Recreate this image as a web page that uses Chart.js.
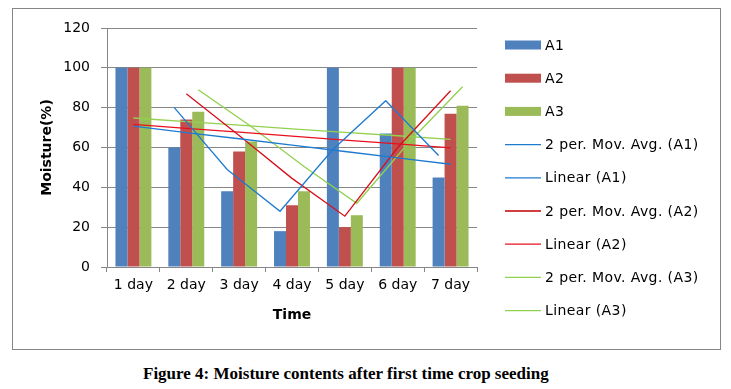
<!DOCTYPE html>
<html lang="en">
<head>
    <meta charset="UTF-8">
    <title>Moisture contents</title>
    <script src="https://cdn.jsdelivr.net/npm/chart.js"></script>
    <style>
        body { margin: 0; background: #fff; width: 731px; height: 389px; position: relative; overflow: hidden; }
        #frame { position: absolute; left: 12px; top: 8px; width: 709px; height: 342px; border: 1px solid #868686; box-sizing: border-box; }
        #wrap { position: absolute; left: 0; top: 0; width: 731px; height: 360px; }
        #caption { position: absolute; left: 143px; top: 364px; font: bold 17px "Liberation Serif", "Times New Roman", serif; color: #000; white-space: nowrap; }
    </style>
</head>
<body>
    <div id="frame"></div>
    <div id="wrap"><canvas id="moistureChart"></canvas></div>
    <div id="caption">Figure 4: Moisture contents after first time crop seeding</div>

    <script>
        // values
        const days = ['1 day', '2 day', '3 day', '4 day', '5 day', '6 day', '7 day'];
        const a1 = [100, 60, 38, 18, 100, 67, 45];
        const a2 = [100, 74, 58, 31, 20, 100, 77];
        const a3 = [100, 78, 63, 38, 26, 100, 81];
        // 2 period moving averages
        const maA1 = [null, 80, 49, 28, 59, 83.5, 56];
        const maA2 = [null, 87, 66, 44.5, 25.5, 60, 88.5];
        const maA3 = [null, 89, 70.5, 50.5, 32, 63, 90.5];
        // linear trend lines
        const linA1 = [70.7, 67.5, 64.4, 61.2, 58.0, 54.8, 51.6];
        const linA2 = [71.6, 69.6, 67.7, 65.7, 63.7, 61.8, 59.8];
        const linA3 = [74.8, 73.0, 71.2, 69.4, 67.6, 65.9, 64.1];
        const yTicks = [0, 20, 40, 60, 80, 100, 120];

        const FONT = '"DejaVu Sans", sans-serif';

        function bar(label, data, color) {
            return { type: 'bar', label, data, backgroundColor: color, borderWidth: 0,
                     order: 2, categoryPercentage: 0.68, barPercentage: 1 };
        }
        // barSide: -1 / 0 / 1 -> line follows the A1 / A2 / A3 bars
        function line(label, data, color, barSide) {
            return { type: 'line', label, data, borderColor: color, backgroundColor: color,
                     borderWidth: 1.3, pointRadius: 0, fill: false, tension: 0,
                     order: 1, barSide: barSide || 0 };
        }

        // moving averages are plotted on their own series' bars, like Excel does
        const barShift = {
            id: 'barShift',
            beforeDatasetDraw(chart, args) {
                const side = chart.data.datasets[args.index].barSide;
                if (!side) return;
                const mid = chart.getDatasetMeta(1).data[0];
                const right = chart.getDatasetMeta(2).data[0];
                chart.ctx.save();
                chart.ctx.translate(side * (right.x - mid.x), 0);
            },
            afterDatasetDraw(chart, args) {
                if (chart.data.datasets[args.index].barSide) chart.ctx.restore();
            }
        };

        // legend drawn at the right, like the spreadsheet one
        const sideLegend = {
            id: 'sideLegend',
            afterDraw(chart) {
                const ctx = chart.ctx;
                ctx.save();
                ctx.font = '14px ' + FONT;
                ctx.letterSpacing = '0.4px';
                ctx.textBaseline = 'middle';
                chart.data.datasets.forEach((ds, i) => {
                    const y = 45 + i * 33.2;
                    if (ds.type === 'bar') {
                        ctx.fillStyle = ds.backgroundColor;
                        ctx.fillRect(505, y - 4.5, 36, 9);
                    } else {
                        ctx.strokeStyle = ds.legendColor || ds.borderColor;
                        ctx.lineWidth = 1.3;
                        ctx.beginPath();
                        ctx.moveTo(505, y);
                        ctx.lineTo(541, y);
                        ctx.stroke();
                    }
                    ctx.fillStyle = '#000';
                    ctx.fillText(ds.label, 545, y + 1);
                });
                ctx.restore();
            }
        };

        const datasets = [
            bar('A1', a1, '#4F81BD'),
            bar('A2', a2, '#C0504D'),
            bar('A3', a3, '#9BBB59'),
            line('2 per. Mov. Avg. (A1)', maA1, '#1F7BD0', -1),
            line('Linear (A1)', linA1, '#1F7BD0'),
            line('2 per. Mov. Avg. (A2)', maA2, '#D8101E'),
            line('Linear (A2)', linA2, '#E8101E'),
            line('2 per. Mov. Avg. (A3)', maA3, '#92D050', 1),
            line('Linear (A3)', linA3, '#92D050')
        ];
        datasets[5].legendColor = '#C00000';

        new Chart(document.getElementById('moistureChart'), {
            data: { labels: days, datasets },
            plugins: [barShift, sideLegend],
            options: {
                responsive: true,
                maintainAspectRatio: false,
                animation: false,
                spanGaps: true,
                layout: { padding: { left: 30, top: 28, right: 254, bottom: 0 } },
                plugins: { legend: { display: false }, tooltip: { enabled: false } },
                scales: {
                    x: {
                        type: 'category',
                        offset: true,
                        grid: { offset: true, drawOnChartArea: false, tickLength: 5, color: '#868686' },
                        border: { color: '#868686' },
                        ticks: { color: '#000', padding: 5, font: { family: FONT, size: 14 } },
                        title: { display: true, text: 'Time', color: '#000', padding: { top: 0, bottom: 36.6 },
                                 font: { family: FONT, size: 14, weight: 'bold' } },
                        afterFit(s) { s.height = 93; }
                    },
                    y: {
                        min: 0, max: 120,
                        afterBuildTicks(s) { s.ticks = yTicks.map(v => ({ value: v })); },
                        grid: { color: '#868686', tickLength: 6 },
                        border: { color: '#868686' },
                        ticks: { color: '#000', padding: 11, font: { family: FONT, size: 14 } },
                        title: { display: true, text: 'Moisture(%)', color: '#000', padding: { top: 8.6, bottom: 0 },
                                 font: { family: FONT, size: 14, weight: 'bold' } },
                        afterFit(s) { s.width = 77; }
                    }
                }
            }
        });
    </script>
</body>
</html>
